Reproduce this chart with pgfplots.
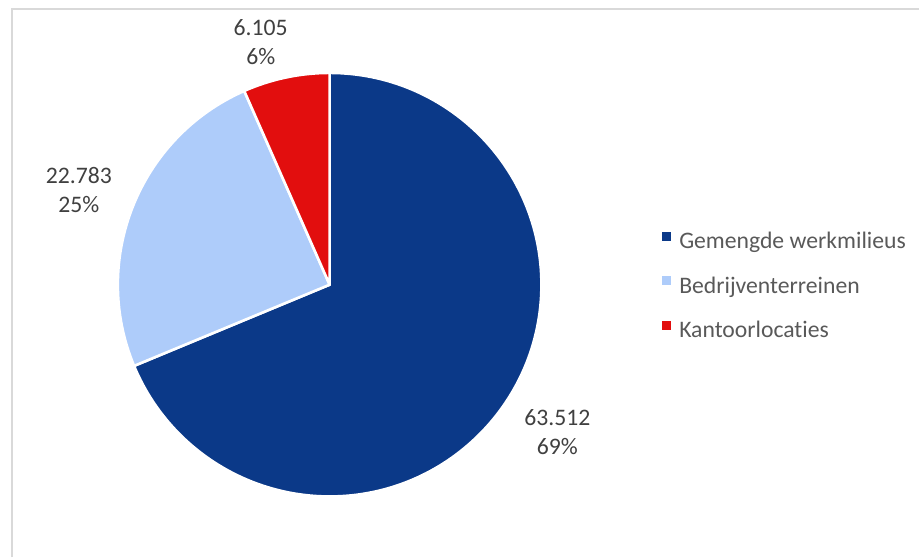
\documentclass[border=0pt]{standalone}
\usepackage{pgfplots}
\pgfplotsset{compat=1.18}
\usepackage{pgfplotstable}
\usepackage{fontspec}
\setmainfont{Carlito}[Ligatures={NoCommon}]

\definecolor{cA}{RGB}{11,57,136}
\definecolor{cB}{RGB}{174,204,250}
\definecolor{cC}{RGB}{226,14,14}
\definecolor{txt}{RGB}{64,64,64}
\definecolor{legtxt}{RGB}{89,89,89}
\definecolor{framec}{RGB}{217,217,217}

\pgfplotstableread{
value
63.512
22.783
6.105
}\piedata

\newcommand\lblfont{\fontsize{11.85pt}{14.5pt}\selectfont}

\begin{document}
\begin{tikzpicture}
\pgfplotstablegetelem{0}{value}\of\piedata \let\va\pgfplotsretval
\pgfplotstablegetelem{1}{value}\of\piedata \let\vb\pgfplotsretval
\pgfplotstablegetelem{2}{value}\of\piedata \let\vc\pgfplotsretval
\pgfmathsetmacro\tot{\va+\vb+\vc}
\pgfmathsetmacro\aA{90}
\pgfmathsetmacro\aB{90-360*(\va/\tot)}
\pgfmathsetmacro\aC{\aB-360*(\vb/\tot)}
\pgfmathsetmacro\aD{\aC-360*(\vc/\tot)}
\def\R{106pt}
\begin{axis}[
  scale only axis, width=460pt, height=279pt,
  xmin=0, xmax=920, ymin=0, ymax=558,
  axis lines=none, clip=false,
  legend image code/.code={\fill[#1] (0pt,1.3pt) rectangle (4.5pt,5.8pt);},
  legend style={at={(axis cs:663,326)}, anchor=north west, draw=none, fill=none,
    inner sep=0pt, outer sep=0pt, font=\lblfont, text=legtxt,
    nodes={inner sep=0pt, text height=8.5pt, text depth=3pt},
    row sep=10.75pt,
    /tikz/every odd column/.append style={column sep=4pt}},
  legend cell align=left,
]
\path (axis cs:0,0) rectangle (axis cs:920,558);
\draw[framec, line width=1pt] (axis cs:11.8,0) -- (axis cs:11.8,549.2) -- (axis cs:920,549.2);

\addlegendimage{fill=cA, draw=none}\addlegendentry{Gemengde werkmilieus}
\addlegendimage{fill=cB, draw=none}\addlegendentry{Bedrijventerreinen}
\addlegendimage{fill=cC, draw=none}\addlegendentry{Kantoorlocaties}

\filldraw[fill=cA, draw=white, line width=1.3pt, line join=round] (axis cs:330,273) -- ++(\aA:\R) arc[start angle=\aA, end angle=\aB, radius=\R] -- cycle;
\filldraw[fill=cB, draw=white, line width=1.3pt, line join=round] (axis cs:330,273) -- ++(\aB:\R) arc[start angle=\aB, end angle=\aC, radius=\R] -- cycle;
\filldraw[fill=cC, draw=white, line width=1.3pt, line join=round] (axis cs:330,273) -- ++(\aC:\R) arc[start angle=\aC, end angle=\aD, radius=\R] -- cycle;

\node[anchor=base, font=\lblfont, text=txt, inner sep=0pt] at (axis cs:261,522) {6.105};
\node[anchor=base, font=\lblfont, text=txt, inner sep=0pt] at (axis cs:261,493) {6\%};
\node[anchor=base, font=\lblfont, text=txt, inner sep=0pt] at (axis cs:79,374) {22.783};
\node[anchor=base, font=\lblfont, text=txt, inner sep=0pt] at (axis cs:79,345) {25\%};
\node[anchor=base, font=\lblfont, text=txt, inner sep=0pt] at (axis cs:558,132) {63.512};
\node[anchor=base, font=\lblfont, text=txt, inner sep=0pt] at (axis cs:558,103) {69\%};
\end{axis}
\end{tikzpicture}
\end{document}
